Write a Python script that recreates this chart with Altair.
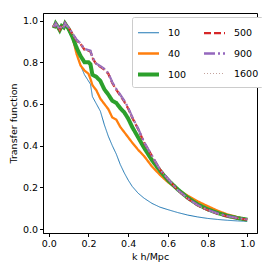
import altair as alt
import pandas as pd

K = [0.02, 0.03, 0.035, 0.045, 0.055, 0.065, 0.075, 0.082, 0.09, 0.10, 0.12, 0.14, 0.16, 0.18, 0.20,
     0.21, 0.22, 0.24, 0.26, 0.28, 0.30, 0.32, 0.34, 0.36, 0.38, 0.40, 0.42, 0.45, 0.48, 0.52, 0.56,
     0.60, 0.65, 0.70, 0.75, 0.80, 0.85, 0.90, 0.95, 1.00]

T10 = [0.975, 0.972, 0.985, 0.970, 0.953, 0.973, 0.965, 0.983, 0.970, 0.950, 0.910, 0.845, 0.785, 0.740, 0.710,
       0.695, 0.635, 0.600, 0.565, 0.500, 0.445, 0.400, 0.360, 0.310, 0.270, 0.235, 0.205, 0.172, 0.148, 0.123, 0.105,
       0.093, 0.079, 0.067, 0.058, 0.051, 0.046, 0.042, 0.039, 0.037]
T40 = [0.975, 0.972, 0.985, 0.970, 0.953, 0.973, 0.966, 0.984, 0.972, 0.955, 0.920, 0.840, 0.785, 0.760, 0.745,
       0.720, 0.690, 0.665, 0.625, 0.600, 0.575, 0.535, 0.525, 0.490, 0.465, 0.440, 0.415, 0.380, 0.350, 0.300, 0.260,
       0.225, 0.190, 0.160, 0.133, 0.110, 0.088, 0.070, 0.057, 0.046]
T100 = [0.975, 0.972, 0.985, 0.971, 0.954, 0.974, 0.967, 0.985, 0.973, 0.960, 0.920, 0.870, 0.830, 0.800, 0.800,
        0.790, 0.740, 0.730, 0.710, 0.670, 0.645, 0.615, 0.605, 0.580, 0.560, 0.530, 0.490, 0.440, 0.390, 0.330, 0.280,
        0.235, 0.190, 0.150, 0.118, 0.095, 0.077, 0.063, 0.053, 0.045]
T500 = [0.975, 0.972, 0.985, 0.972, 0.955, 0.975, 0.968, 0.987, 0.975, 0.965, 0.935, 0.905, 0.888, 0.860, 0.855,
        0.852, 0.820, 0.790, 0.778, 0.765, 0.745, 0.700, 0.668, 0.640, 0.612, 0.578, 0.535, 0.480, 0.415, 0.350, 0.285,
        0.240, 0.186, 0.146, 0.114, 0.091, 0.074, 0.061, 0.052, 0.045]
T900 = [0.976, 0.973, 0.986, 0.973, 0.956, 0.976, 0.969, 0.988, 0.976, 0.967, 0.937, 0.908, 0.890, 0.863, 0.858,
        0.855, 0.823, 0.793, 0.781, 0.768, 0.748, 0.704, 0.672, 0.644, 0.616, 0.582, 0.538, 0.482, 0.417, 0.351, 0.286,
        0.241, 0.187, 0.147, 0.115, 0.092, 0.075, 0.062, 0.053, 0.046]
T1600 = [0.976, 0.973, 0.986, 0.972, 0.955, 0.975, 0.968, 0.987, 0.975, 0.966, 0.936, 0.906, 0.889, 0.861, 0.856,
         0.853, 0.821, 0.791, 0.779, 0.766, 0.746, 0.702, 0.670, 0.642, 0.614, 0.580, 0.536, 0.481, 0.416, 0.350, 0.285,
         0.240, 0.186, 0.146, 0.114, 0.091, 0.074, 0.061, 0.052, 0.045]

SERIES = ["10", "40", "100", "500", "900", "1600"]
VALUES = [T10, T40, T100, T500, T900, T1600]
COLORS = ["#1f77b4", "#ff7f0e", "#2ca02c", "#d62728", "#9467bd", "#c4a39d"]
WIDTHS = [1.0, 2.3, 4.0, 2.3, 2.3, 1.1]
DASHES = [[1, 0], [1, 0], [1, 0], [7, 3], [11, 3, 2, 3], [1, 2]]

rows = []
for s, vals in zip(SERIES, VALUES):
    for k, t in zip(K, vals):
        rows.append({"series": s, "k": k, "T": t})
df = pd.DataFrame(rows)

leg = alt.Legend(title=None, orient="none", legendX=89, legendY=4, columns=2,
                 symbolType="stroke", symbolSize=441, labelFontSize=9.5, labelFont="DejaVu Sans",
                 labelColor="black", columnPadding=12, rowPadding=3.5, labelOffset=7,
                 padding=4, strokeColor="#cccccc", fillColor="white", cornerRadius=2)

chart = alt.Chart(df).mark_line(interpolate="linear").encode(
    x=alt.X("k:Q", scale=alt.Scale(domain=[-0.029, 1.049], nice=False, zero=False),
            axis=alt.Axis(title="k h/Mpc", values=[0, 0.2, 0.4, 0.6, 0.8, 1.0], format=".1f")),
    y=alt.Y("T:Q", scale=alt.Scale(domain=[-0.019, 1.036], nice=False, zero=False),
            axis=alt.Axis(title="Transfer function", values=[0, 0.2, 0.4, 0.6, 0.8, 1.0], format=".1f")),
    color=alt.Color("series:O", scale=alt.Scale(domain=SERIES, range=COLORS), legend=leg),
    strokeDash=alt.StrokeDash("series:O", scale=alt.Scale(domain=SERIES, range=DASHES), legend=leg),
    strokeWidth=alt.StrokeWidth("series:O", scale=alt.Scale(type="ordinal", domain=SERIES, range=WIDTHS), legend=leg),
    order=alt.Order("k:Q"),
).properties(
    width=214, height=220,
    autosize=alt.AutoSizeParams(type="none"),
    padding={"left": 35, "top": 5, "right": 5, "bottom": 30},
).configure_view(stroke="black", strokeWidth=1).configure_axis(
    grid=False, domainColor="black", tickColor="black", tickSize=3.5, labelFontSize=9.5,
    labelFont="DejaVu Sans", titleFont="DejaVu Sans", titleFontSize=9.5, titleFontWeight="normal",
    labelColor="black", titleColor="black", labelPadding=2,
).configure_axisY(titlePadding=4).configure_axisX(titlePadding=3)

chart.save("out.html", embed_options={"renderer": "svg", "actions": False})
